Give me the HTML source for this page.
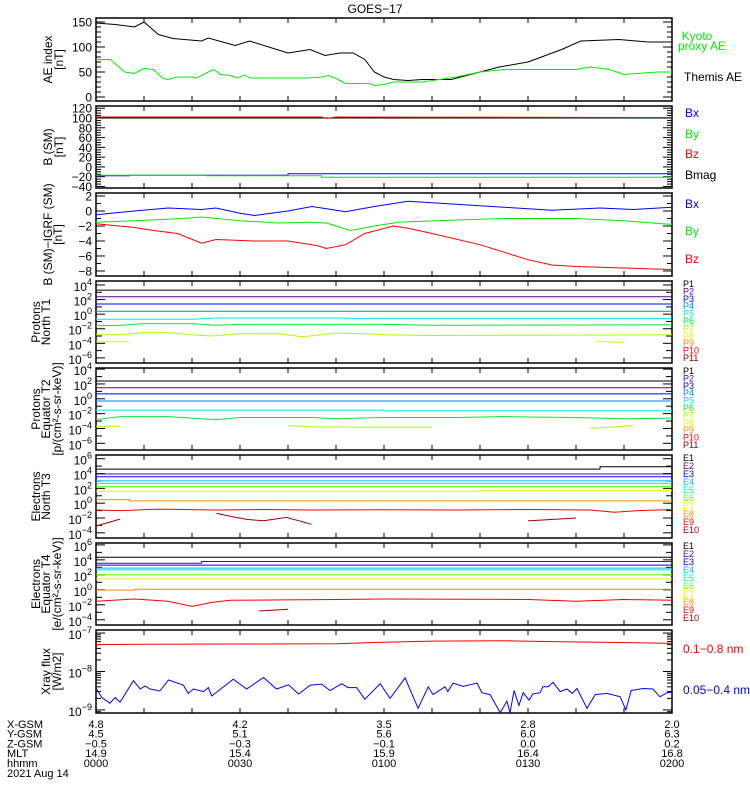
<!DOCTYPE html>
<html><head><meta charset="utf-8"><style>
html,body{margin:0;padding:0;background:#fff}
svg{display:block}
text{font-family:"Liberation Sans",sans-serif}
</style></head><body>
<svg id="chart" width="750" height="800" viewBox="0 0 750 800" xmlns="http://www.w3.org/2000/svg">
<text x="375" y="13" font-size="12" text-anchor="middle">GOES−17</text>
</svg>
<script>
// ---------- data ----------
const aeThemisT=[0,4,8,10,13,16,22,23.4,29,32,37,40,44.6,47.7,50.8,53.6,56,58,60,62,65,68,74,80,84,90,97,101,109,115,120];
const aeThemisV=[148,145,140,150,125,117,112,118,103,112,97,88,95,83,88,88,75,50,40,35,33,35,35,50,60,70,95,112,115,110,110];
const aeKyotoT=[0,3,6,8,10,12,14,15,17,20,21,23,24.5,26,28,29.5,31,32,44,47,48.5,50,52,57,58,60,62,68,75,80,85,100,103,107,110,117,120];
const aeKyotoV=[75,75,50,47,57,55,37,35,40,40,38,48,55,45,43,38,44,38,38,40,43,37,27,27,23,25,30,30,40,50,55,55,60,55,45,50,50];
const aeTicks=[0,50,100,150];
const bTicks=[-40,-20,0,20,40,60,80,100,120];
const bBxT=[0,7,7,40,40,120], bBxV=[-18,-18,-17,-17,-14,-14];
const bByT=[0,23,23,47,47,120], bByV=[-17,-17,-18,-18,-21,-21];
const bBzT=[0,47,48,50,120], bBzV=[102,102,99,102,101];
const bBmT=[0,120], bBmV=[100,100];
const dbTicks=[-8,-6,-4,-2,0,2];
const dbBxT=[0,8,15,22,25,30,33,40,45,48,52,58,65,75,85,95,105,112,120];
const dbBxV=[-0.5,0,0.4,0.2,0.4,-0.3,-0.6,0,0.6,0.3,-0.1,0.6,1.3,0.9,0.5,0.1,0.4,0.2,0.5];
const dbByT=[0,8,18,22,30,38,44,48,53,58,63,75,85,100,110,120];
const dbByV=[-1.5,-1.3,-1.0,-0.8,-1.3,-1.6,-1.5,-1.6,-2.6,-2.0,-1.5,-1.2,-1.0,-1.0,-1.3,-1.8];
const dbBzT=[0,8,12,17,22,25,33,40,46,48,52,56,62,65,70,80,90,95,100,120];
const dbBzV=[-1.7,-2.2,-2.6,-3.0,-4.3,-3.8,-4.0,-4.0,-4.6,-5.0,-4.5,-3.0,-2.0,-2.3,-3.0,-4.5,-6.5,-7.2,-7.4,-7.8];
const logTicksP=[-6,-4,-2,0,2,4];
const logTicksE=[-4,-2,0,2,4,6];
const logTicksX=[-9,-8,-7];
const t1P1T=[0,120], t1P1V=[2000,2000];
const t1P2T=[0,120], t1P2V=[250,250];
const t1P3T=[0,120], t1P3V=[25,25];
const t1P4T=[0,120], t1P4V=[2.5,2.5];
const t1P5T=[0,20,25,50,55,120], t1P5V=[0.2,0.2,0.3,0.3,0.25,0.25];
const t1P6T=[0,5,10,20,25,30,60,70,120], t1P6V=[0.025,0.03,0.05,0.05,0.03,0.04,0.04,0.03,0.035];
const t1P7T=[0,5,10,15,20,24,30,38,43,50,55,60,70,90,120], t1P7V=[0.0015,0.0015,0.003,0.003,0.0015,0.001,0.002,0.002,0.0008,0.0025,0.0022,0.0015,0.0012,0.0013,0.0015];
const t1P8aT=[0,7], t1P8aV=[0.00016,0.00016];
const t1P8bT=[104,108,110], t1P8bV=[0.0002,0.00015,0.00013];
const t2P1T=[0,120], t2P1V=[250,250];
const t2P2T=[0,120], t2P2V=[30,30];
const t2P3T=[0,120], t2P3V=[4.5,4.5];
const t2P4T=[0,120], t2P4V=[0.5,0.5];
const t2P5T=[0,60,60,120], t2P5V=[0.03,0.03,0.025,0.025];
const t2P6T=[0,5,15,20,25,30,45,50,60,75,85,90,100,110,120], t2P6V=[0.0015,0.004,0.004,0.0025,0.0015,0.003,0.003,0.002,0.003,0.003,0.004,0.0035,0.003,0.002,0.0025];
const t2P7aT=[0,5], t2P7aV=[0.0002,0.0002];
const t2P7bT=[40,45,55,70], t2P7bV=[0.00025,0.00017,0.00015,0.00015];
const t2P7cT=[103,112], t2P7cV=[0.0001,0.00025];
const t3E1T=[0,105,105,120], t3E1V=[40000,40000,80000,80000];
const t3E2T=[0,120], t3E2V=[8500,8500];
const t3E3T=[0,120], t3E3V=[3700,3700];
const t3E4T=[0,120], t3E4V=[1000,1000];
const t3E5T=[0,120], t3E5V=[470,470];
const t3E6T=[0,120], t3E6V=[170,170];
const t3E7T=[0,80,80,120], t3E7V=[40,40,50,50];
const t3E8T=[0,7,7,120], t3E8V=[3,3,2,2];
const t3E9T=[0,5,13,25,35,45,60,75,90,103,108,113,120], t3E9V=[0.12,0.1,0.16,0.12,0.14,0.12,0.13,0.12,0.14,0.12,0.06,0.1,0.14];
const t3E10aT=[0,5], t3E10aV=[0.0008,0.007];
const t3E10bT=[25.1,28.6,31.4,34.9,39.7,44.9], t3E10bV=[0.042,0.014,0.0065,0.0042,0.012,0.0014];
const t3E10cT=[90,100], t3E10cV=[0.004,0.01];
const t4E1T=[0,120], t4E1V=[22000,22000];
const t4E2T=[0,22,22,120], t4E2V=[3500,3500,6000,6000];
const t4E3T=[0,120], t4E3V=[2000,2000];
const t4E4T=[0,120], t4E4V=[800,800];
const t4E5T=[0,120], t4E5V=[450,450];
const t4E6T=[0,120], t4E6V=[100,100];
const t4E7T=[0,120], t4E7V=[28,28];
const t4E8T=[0,8,8,120], t4E8V=[0.9,0.9,1.2,1.2];
const t4E9T=[0,8,15,20,24,28,50,60,90,100,110,120], t4E9V=[0.03,0.06,0.03,0.006,0.02,0.04,0.05,0.06,0.05,0.03,0.05,0.04];
const t4E10T=[34,40], t4E10V=[0.0015,0.0025];
const xrLongT=[0,10,30,50,60,70,85,95,105,120];
const xrLongV=[5.0e-8,5.1e-8,5.2e-8,5.3e-8,5.8e-8,6.2e-8,6.3e-8,6.0e-8,5.8e-8,5.4e-8];
const xrShortT=[0.1,1.2,2.9,4.0,5.0,6.0,7.8,9.2,10.2,11.25,13.3,15.1,18.2,19.2,20.3,22.4,23.4,24.1,28.6,31.4,34.9,37.6,40.1,42.2,44.6,47,48.75,51.2,52.5,54.3,56,59.2,61.25,64.4,67.1,69.2,70.2,72.7,73.3,74.4,76.5,77.9,79.4,80.4,82.1,84.2,85.6,86.25,87.1,88.1,89,90.2,91,92.5,93.1,94.2,95.2,96.7,98.1,99.2,100.2,102.3,104,106.5,109.2,110.4,111.5,114,116,117.5,119,120];
const xrShortV=[3.5e-9,2.1e-9,1.5e-9,2.1e-9,1.6e-9,2.5e-9,5.8e-9,3.5e-9,4.2e-9,3.5e-9,3.1e-9,6e-9,4.4e-9,2.7e-9,3.5e-9,3.0e-9,3.8e-9,2.3e-9,6.3e-9,3.5e-9,7e-9,3.5e-9,4.5e-9,2.6e-9,4.4e-9,4.7e-9,3.2e-9,4.8e-9,3.8e-9,3.8e-9,1.9e-9,4.8e-9,2.0e-9,6.8e-9,1.1e-9,4.0e-9,2.5e-9,4.0e-9,3.0e-9,5.0e-9,4.1e-9,4.5e-9,5.0e-9,2.8e-9,2.5e-9,0.85e-9,1.7e-9,0.85e-9,3.2e-9,1.3e-9,2.8e-9,1.8e-9,2.6e-9,2.8e-9,4.0e-9,4.0e-9,5.2e-9,3.0e-9,3.5e-9,2.7e-9,3.6e-9,1.1e-9,2.5e-9,2.7e-9,2.2e-9,1.0e-9,3.2e-9,3.6e-9,3.5e-9,2.2e-9,2.8e-9,2.9e-9];
const orbitCols=[["4.8","4.5","−0.5","14.9","0000"],["4.2","5.1","−0.3","15.4","0030"],["3.5","5.6","−0.1","15.9","0100"],["2.8","6.0","0.0","16.4","0130"],["2.0","6.3","0.2","16.8","0200"]];
const orbitRowNames=["X-GSM","Y-GSM","Z-GSM","MLT","hhmm"];

// ---------- drawing ----------
const NS="http://www.w3.org/2000/svg";
const svg=document.getElementById('chart');
const X0=96,X1=672;
const xs=t=>X0+t*(X1-X0)/120;
function mk(tag,attrs,parent){const e=document.createElementNS(NS,tag);for(const k in attrs)e.setAttribute(k,attrs[k]);(parent||svg).appendChild(e);return e;}
function yscale(p){return v=>{const a=p.log?Math.log10(v):v;return p.bot-(a-p.min)/(p.max-p.min)*(p.bot-p.top);};}

const C={k:"#000",pu:"#5a0096",b:"#0000ff",lb:"#0080ff",cy:"#00e8e8",g:"#00e840",yg:"#a8ff00",y:"#f0f000",o:"#ff8c00",r:"#ff0000",dr:"#a00000",tq:"#00f0a0",lg:"#60ff00",G:"#00ee00"};

function panel(p,name){
  const g=mk('g',{});
  
  
  p.g=g;p.y=yscale(p);
  for(let t=10;t<120;t+=10){
    const x=xs(t);
    const a=mk('line',{x1:x,x2:x,y1:p.bot,y2:p.bot-5,stroke:'#000','stroke-width':1},g);
    
    
    const b=mk('line',{x1:x,x2:x,y1:p.top,y2:p.top+5,stroke:'#000','stroke-width':1},g);
    
    
  }
  const minors=[];
  if(p.log){
    for(let d=Math.floor(p.min);d<=Math.ceil(p.max);d++){
      if(p.fine){for(let m=1;m<10;m++)minors.push([d+Math.log10(m),m==1?9:5]);}
      else minors.push([d,p.ticks.includes(d)?9:6]);
    }
  }else{
    for(let v=Math.ceil(p.min/p.minor)*p.minor;v<=p.max;v+=p.minor)minors.push([v,(Math.abs(v%p.major)<1e-9)?9:5]);
  }
  minors.forEach(([a,len])=>{
    if(a<p.min||a>p.max)return;
    const y=p.bot-(a-p.min)/(p.max-p.min)*(p.bot-p.top);
    const l=mk('line',{x1:X0,x2:X0+len,y1:y,y2:y,stroke:'#000','stroke-width':1},g);
    
    
    const r=mk('line',{x1:X1,x2:X1-len,y1:y,y2:y,stroke:'#000','stroke-width':1},g);
    
    
  });
  p.ticks.forEach(v=>{
    const y=p.bot-(v-p.min)/(p.max-p.min)*(p.bot-p.top);
    const tx=mk('text',{x:92,y:y+(p.log?6:4.5),'font-size':12,'text-anchor':'end'},g);
    
    
    if(p.log){
      tx.appendChild(document.createTextNode('10'));
      const s=mk('tspan',{dy:-6,'font-size':9},tx);
      s.textContent=String(v).replace('-','−');
    }else tx.textContent=String(v).replace('-','−');
  });
  const f=mk('rect',{x:X0,y:p.top,width:X1-X0,height:p.bot-p.top,fill:'none',stroke:'#000','stroke-width':1.5},g);
  
  
  const cy=(p.top+p.bot)/2;
  p.title.forEach((s,i)=>{
    const x=p.tx[i];
    const t=mk('text',{x:x,y:cy,'font-size':12,'text-anchor':'middle',transform:`rotate(-90 ${x} ${cy})`},g);
    
    
    t.textContent=s;
  });
  return p;
}
function series(p,T,V,color,name){
  const pts=T.map((t,i)=>xs(t).toFixed(1)+','+p.y(V[i]).toFixed(1)).join(' ');
  const pl=mk('polyline',{points:pts,fill:'none',stroke:color,'stroke-width':1},p.g);
  
  
}
function legend(x,y,text,color,size,anchor){
  const t=mk('text',{x:x,y:y,'font-size':size||12,fill:color,'text-anchor':anchor||'start'});
  
  
  t.textContent=text;
}

const pAE=panel({top:18,bot:101,min:-8,max:158,log:false,major:50,minor:10,ticks:aeTicks,title:['AE index','[nT]'],tx:[52,63]},'ae-index');
series(pAE,aeThemisT,aeThemisV,C.k,'themis-ae-line');
series(pAE,aeKyotoT,aeKyotoV,C.G,'kyoto-proxy-ae-line');
legend(697,40,'Kyoto',C.G,12,'middle');legend(702,50,'proxy AE',C.G,12,'middle');legend(684,81,'Themis AE',C.k,12);
const pB=panel({top:106,bot:188,min:-43,max:124.5,log:false,major:20,minor:5,ticks:bTicks,title:['B (SM)','[nT]'],tx:[52,63]},'b-sm');
series(pB,bBmT,bBmV,C.k,'bmag-line');
series(pB,bBzT,bBzV,C.r,'bz-line');
series(pB,bBxT,bBxV,C.b,'bx-line');
series(pB,bByT,bByV,C.G,'by-line');
legend(685,117,'Bx',C.b);legend(685,138,'By',C.G);legend(685,158,'Bz',C.r);legend(685,179,'Bmag',C.k);
const pD=panel({top:193,bot:276,min:-8.67,max:2.4,log:false,major:2,minor:1,ticks:dbTicks,title:['B (SM)−IGRF (SM)','[nT]'],tx:[52,62]},'b-minus-igrf');
series(pD,dbBxT,dbBxV,C.b,'dbx-line');
series(pD,dbByT,dbByV,C.G,'dby-line');
series(pD,dbBzT,dbBzV,C.r,'dbz-line');
legend(685,208,'Bx',C.b);legend(685,235,'By',C.G);legend(685,263,'Bz',C.r);
const pT1=panel({top:281,bot:363,min:-6.7,max:4.55,log:true,ticks:logTicksP,title:['Protons','North T1'],tx:[40,50]},'protons-north-t1');
const pCols=[C.k,C.pu,C.b,C.lb,C.cy,C.g,C.yg,C.y,C.o,C.r,C.dr];
series(pT1,t1P1T,t1P1V,pCols[0],'t1-p1-line');series(pT1,t1P2T,t1P2V,pCols[1],'t1-p2-line');
series(pT1,t1P3T,t1P3V,pCols[2],'t1-p3-line');series(pT1,t1P4T,t1P4V,pCols[3],'t1-p4-line');
series(pT1,t1P5T,t1P5V,pCols[4],'t1-p5-line');series(pT1,t1P6T,t1P6V,pCols[5],'t1-p6-line');
series(pT1,t1P7T,t1P7V,pCols[6],'t1-p7-line');series(pT1,t1P8aT,t1P8aV,pCols[7],'t1-p8-line');
series(pT1,t1P8bT,t1P8bV,pCols[7],'t1-p8-line');
const pT2=panel({top:368,bot:450,min:-6.9,max:4.15,log:true,ticks:logTicksP,title:['Protons','Equator T2','[p/(cm²-s-sr-keV)]'],tx:[40,50,61]},'protons-equator-t2');
series(pT2,t2P1T,t2P1V,pCols[0],'t2-p1-line');series(pT2,t2P2T,t2P2V,pCols[1],'t2-p2-line');
series(pT2,t2P3T,t2P3V,pCols[2],'t2-p3-line');series(pT2,t2P4T,t2P4V,pCols[3],'t2-p4-line');
series(pT2,t2P5T,t2P5V,pCols[4],'t2-p5-line');series(pT2,t2P6T,t2P6V,pCols[5],'t2-p6-line');
series(pT2,t2P7aT,t2P7aV,pCols[6],'t2-p7-line');series(pT2,t2P7bT,t2P7bV,pCols[6],'t2-p7-line');
series(pT2,t2P7cT,t2P7cV,pCols[6],'t2-p7-line');
const eCols=[C.k,C.pu,C.b,"#00b0ff",C.tq,C.lg,C.y,C.o,C.r,C.dr];
const pT3=panel({top:455,bot:538,min:-4.7,max:6.5,log:true,ticks:logTicksE,title:['Electrons','North T3'],tx:[40,50]},'electrons-north-t3');
series(pT3,t3E1T,t3E1V,eCols[0],'t3-e1-line');series(pT3,t3E2T,t3E2V,eCols[1],'t3-e2-line');
series(pT3,t3E3T,t3E3V,eCols[2],'t3-e3-line');series(pT3,t3E4T,t3E4V,eCols[3],'t3-e4-line');
series(pT3,t3E5T,t3E5V,eCols[4],'t3-e5-line');series(pT3,t3E6T,t3E6V,eCols[5],'t3-e6-line');
series(pT3,t3E7T,t3E7V,eCols[6],'t3-e7-line');series(pT3,t3E8T,t3E8V,eCols[7],'t3-e8-line');
series(pT3,t3E9T,t3E9V,eCols[8],'t3-e9-line');
series(pT3,t3E10aT,t3E10aV,eCols[9],'t3-e10-line');series(pT3,t3E10bT,t3E10bV,eCols[9],'t3-e10-line');
series(pT3,t3E10cT,t3E10cV,eCols[9],'t3-e10-line');
const pT4=panel({top:543,bot:625,min:-4.7,max:6.25,log:true,ticks:logTicksE,title:['Electrons','Equator T4','[e/(cm²-s-sr-keV)]'],tx:[40,50,61]},'electrons-equator-t4');
series(pT4,t4E1T,t4E1V,eCols[0],'t4-e1-line');series(pT4,t4E2T,t4E2V,eCols[1],'t4-e2-line');
series(pT4,t4E3T,t4E3V,eCols[2],'t4-e3-line');series(pT4,t4E4T,t4E4V,eCols[3],'t4-e4-line');
series(pT4,t4E5T,t4E5V,eCols[4],'t4-e5-line');series(pT4,t4E6T,t4E6V,eCols[5],'t4-e6-line');
series(pT4,t4E7T,t4E7V,eCols[6],'t4-e7-line');series(pT4,t4E8T,t4E8V,eCols[7],'t4-e8-line');
series(pT4,t4E9T,t4E9V,eCols[8],'t4-e9-line');series(pT4,t4E10T,t4E10V,eCols[9],'t4-e10-line');
['P1','P2','P3','P4','P5','P6','P7','P8','P9','P10','P11'].forEach((s,i)=>{legend(683,287+i*7.4,s,pCols[i],9);legend(683,374+i*7.4,s,pCols[i],9);});
['E1','E2','E3','E4','E5','E6','E7','E8','E9','E10'].forEach((s,i)=>{legend(683,461+i*8,s,eCols[i],9);legend(683,549+i*8,s,eCols[i],9);});
const pX=panel({top:630,bot:713,min:-9.08,max:-6.92,log:true,fine:true,ticks:logTicksX,title:['Xray flux','[W/m2]'],tx:[50,61]},'xray-flux');
series(pX,xrLongT,xrLongV,C.r,'xray-long-line');
series(pX,xrShortT,xrShortV,C.b,'xray-short-line');
legend(683,653,'0.1−0.8 nm',C.r,12);legend(683,694,'0.05−0.4 nm',C.b,12);

orbitRowNames.forEach((s,i)=>{
  const t=mk('text',{x:7,y:728+i*9.7,'font-size':11});
  
  
  t.textContent=s;
});
orbitCols.forEach((col,j)=>{
  col.forEach((s,i)=>{
    const t=mk('text',{x:xs(j*30),y:728+i*9.7,'font-size':11,'text-anchor':'middle'});
    
    
    t.textContent=s;
  });
});
const dt=mk('text',{x:7,y:777,'font-size':11});


dt.textContent='2021 Aug 14';
</script>
</body></html>
